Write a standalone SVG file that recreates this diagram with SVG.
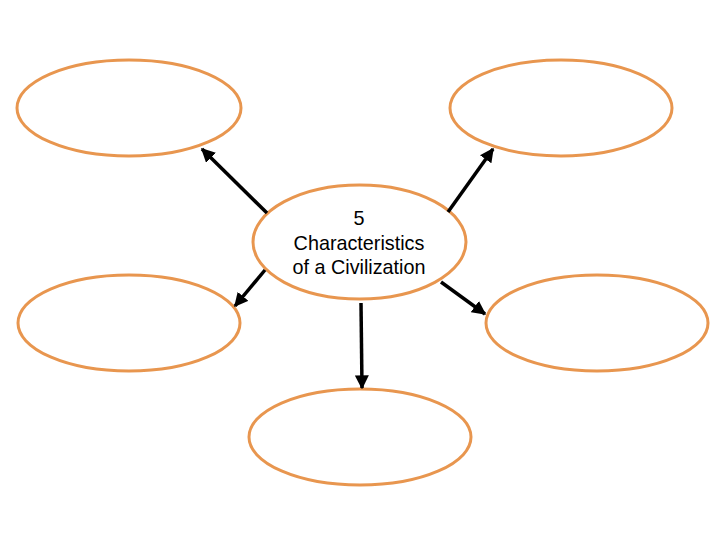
<svg xmlns="http://www.w3.org/2000/svg" width="720" height="540" viewBox="0 0 720 540">
<defs>
<style>
.n{fill:#fff;stroke:#E8964F;stroke-width:3}
.c{stroke:#000;stroke-width:3.5;fill:none;marker-end:url(#ah)}
.t{font-family:"Liberation Sans",Arial,sans-serif;font-size:19.8px;fill:#000;text-anchor:middle}
</style>
<marker id="ah" viewBox="0 0 10 10" refX="9" refY="5" markerWidth="4" markerHeight="4" orient="auto" markerUnits="strokeWidth">
<path d="M0,0 L10,5 L0,10 z" fill="#000"/>
</marker>
</defs>
<rect width="720" height="540" fill="#fff"/>
<g id="n-tl"><ellipse class="n" cx="129" cy="108" rx="112" ry="48"/></g>
<g id="n-tr"><ellipse class="n" cx="561" cy="108" rx="111" ry="48"/></g>
<g id="n-ml"><ellipse class="n" cx="129" cy="323" rx="111" ry="48"/></g>
<g id="n-mr"><ellipse class="n" cx="597" cy="323" rx="111" ry="48"/></g>
<g id="n-b"><ellipse class="n" cx="360" cy="437" rx="111" ry="48"/></g>
<g id="n-center"><ellipse class="n" cx="359.5" cy="242" rx="106.5" ry="57"/>
<text class="t" x="359" y="225">5</text>
<text class="t" x="359" y="250">Characteristics</text>
<text class="t" x="359" y="274">of a Civilization</text>
</g>
<g id="connectors">
<line class="c" x1="267" y1="213" x2="202" y2="149"/>
<line class="c" x1="448" y1="212" x2="493" y2="149"/>
<line class="c" x1="265" y1="270" x2="235" y2="306"/>
<line class="c" x1="441" y1="282" x2="485" y2="314"/>
<line class="c" x1="361" y1="303" x2="362" y2="388"/>
</g>
</svg>
